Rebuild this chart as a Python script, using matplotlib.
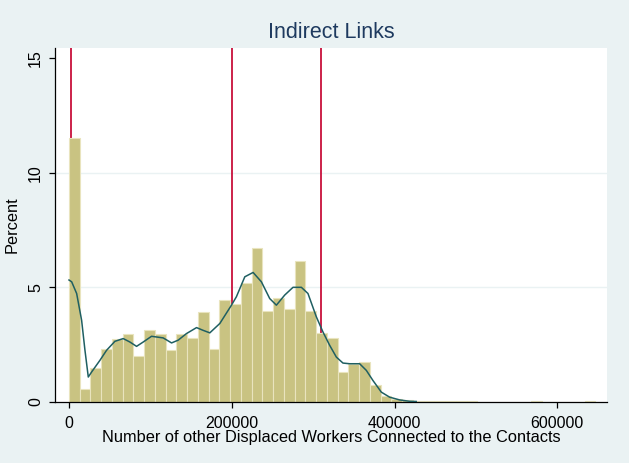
import numpy as np
import matplotlib.pyplot as plt

plt.rcParams['font.family'] = ['Liberation Sans', 'DejaVu Sans']

# histogram: bin width and percent per bin
bin_width = 13200
pct = [11.52, 0.56, 1.48, 2.30, 2.72, 2.95, 2.00, 3.13, 2.95, 2.24,
       2.95, 2.78, 3.89, 2.30, 4.42, 4.24, 5.18, 6.70, 3.95, 4.53,
       4.06, 6.13, 3.95, 3.01, 2.78, 1.30, 1.65, 1.71, 0.72, 0.25,
       0.13, 0.07, 0.04, 0.03, 0.03, 0.03, 0.03, 0.03, 0.0, 0.0,
       0.0, 0.0, 0.0, 0.03, 0.0, 0.0, 0.0, 0.0, 0.03]

# kernel density overlay (scaled to percent)
kde_x = [0, 3300, 9400, 15500, 19600, 23700, 27800, 38000, 46200, 56400,
         66600, 74800, 83000, 91200, 101400, 115700, 126000, 134100, 144400,
         156700, 164800, 173000, 185300, 199600, 205700, 216000, 226200,
         236400, 246600, 254800, 265000, 275200, 285500, 293600, 303900,
         312000, 320200, 328500, 336600, 344800, 357100, 365300, 373400,
         383700, 393900, 406100, 418400, 426600]
kde_y = [5.31, 5.23, 4.72, 3.55, 2.24, 1.07, 1.29, 1.80, 2.24, 2.63,
         2.75, 2.60, 2.41, 2.60, 2.85, 2.78, 2.56, 2.68, 2.97,
         3.23, 3.11, 3.00, 3.41, 4.21, 4.58, 5.45, 5.64,
         5.23, 4.50, 4.21, 4.65, 4.99, 4.99, 4.72, 3.70,
         3.04, 2.46, 1.94, 1.68, 1.65, 1.65, 1.36, 0.92,
         0.41, 0.19, 0.07, 0.01, 0.0]

vlines = [2500, 200000, 310000]
xticks = [0, 200000, 400000, 600000]
yticks = [0, 5, 10, 15]

bg = '#EAF2F3'
fig = plt.figure(figsize=(6.29, 4.63), dpi=100, facecolor=bg)
ax = fig.add_axes([55/629, 1 - 401.5/463, 552/629, 353.5/463])
ax.set_facecolor('white')

left_edges = np.arange(len(pct)) * bin_width
for v in vlines:
    ax.axvline(v, color='#C8103C', lw=1.3, zorder=1)
ax.bar(left_edges, pct, width=bin_width, align='edge', color='#C9C382',
       edgecolor='#E9E4BE', linewidth=0.8, zorder=2)
ax.plot(kde_x, kde_y, color='#1F5F62', lw=1.1, zorder=3)

ax.set_xlim(-17200, 661000)
ax.set_ylim(0, 15.45)
ax.set_xticks(xticks)
ax.set_xticklabels([str(t) for t in xticks])
ax.set_yticks(yticks)
ax.set_yticklabels([str(t) for t in yticks], rotation=90, va='center')
ax.tick_params(direction='out', length=4.5, width=0.9, labelsize=11.5)
ax.tick_params(axis='x', pad=6)
ax.tick_params(axis='y', pad=4)

for y in [5, 10]:
    ax.axhline(y, color=bg, lw=1.0, zorder=0)

for s in ['top', 'right']:
    ax.spines[s].set_visible(False)
ax.spines['left'].set_linewidth(0.9)
ax.spines['bottom'].set_linewidth(0.9)

ax.set_xlabel('Number of other Displaced Workers Connected to the Contacts',
              fontsize=11.8, labelpad=-1)
ax.set_ylabel('Percent', fontsize=11.8, labelpad=6)
ax.set_title('Indirect Links', fontsize=15.5, color='#1E3A5F', pad=7)

fig.savefig('out.png', dpi=100, facecolor=bg)
